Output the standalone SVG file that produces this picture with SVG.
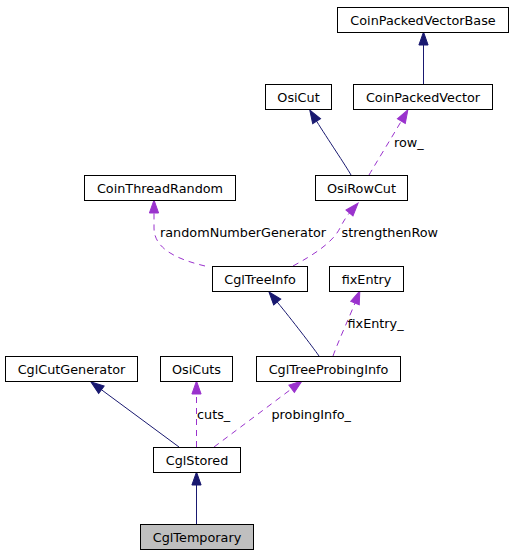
<svg xmlns="http://www.w3.org/2000/svg" width="513" height="554" viewBox="0 0 513 554">
<style>
.n rect{fill:#fff;stroke:#000;stroke-width:1}
.n text{font-family:"DejaVu Sans",sans-serif;font-size:12.8px;text-anchor:middle;fill:#000}
.lbl{font-family:"DejaVu Sans",sans-serif;font-size:12.8px;fill:#000}
.inh{fill:none;stroke:#191970;stroke-width:1;marker-end:url(#ah)}
.use{fill:none;stroke:#9a32cd;stroke-width:1;stroke-dasharray:6,5;marker-end:url(#ap)}
</style>
<defs>
<marker id="ah" markerUnits="userSpaceOnUse" markerWidth="14" markerHeight="10" viewBox="0 0 13 10" refX="0" refY="5" orient="auto" overflow="visible">
<path d="M0,0.4 L13,5 L0,9.6 z" fill="#191970" stroke="#191970"/>
</marker>
<marker id="ap" markerUnits="userSpaceOnUse" markerWidth="14" markerHeight="10" viewBox="0 0 13 10" refX="0" refY="5" orient="auto" overflow="visible">
<path d="M0,0.4 L13,5 L0,9.6 z" fill="#9a32cd" stroke="#9a32cd"/>
</marker>
</defs>
<g id="edges">
<path class="inh" d="M423.5,84 L423.5,45"/>
<path class="inh" d="M351,175 C346,166 327,138 316.6,121.2"/>
<path class="use" d="M369,175 C376,163 392,137 401.3,121.1"/>
<path class="use" d="M205,266 C180,260 154,250 154,228 L154,213"/>
<path class="use" d="M293,266 C315,254 333,242 340,228 C343,222 346,217 349.5,213"/>
<path class="inh" d="M319,356 C312,346 292,320 277.2,302"/>
<path class="use" d="M333,356 C338,342 349,318 355,303"/>
<path class="inh" d="M179,447 L101.4,389.7"/>
<path class="use" d="M196.5,447 L196.5,394"/>
<path class="use" d="M214,447 L291.6,388.8"/>
<path class="inh" d="M196.5,524 L196.5,485"/>
<text class="lbl" x="394" y="147">row_</text>
<text class="lbl" x="160" y="237">randomNumberGenerator</text>
<text class="lbl" x="341.5" y="237">strengthenRow</text>
<text class="lbl" x="347.5" y="328">fixEntry_</text>
<text class="lbl" x="197" y="419">cuts_</text>
<text class="lbl" x="271.5" y="419">probingInfo_</text>
</g>
<g id="CoinPackedVectorBase" class="n"><rect x="337.5" y="7.5" width="171" height="25"/><text x="423" y="24.5">CoinPackedVectorBase</text></g>
<g id="OsiCut" class="n"><rect x="265.5" y="84.5" width="66" height="25"/><text x="298.5" y="101.5">OsiCut</text></g>
<g id="CoinPackedVector" class="n"><rect x="353.5" y="84.5" width="139" height="25"/><text x="423" y="101.5">CoinPackedVector</text></g>
<g id="OsiRowCut" class="n"><rect x="315.5" y="175.5" width="92" height="25"/><text x="361.5" y="192.5">OsiRowCut</text></g>
<g id="CoinThreadRandom" class="n"><rect x="84.5" y="175.5" width="151" height="25"/><text x="160" y="192.5">CoinThreadRandom</text></g>
<g id="CglTreeInfo" class="n"><rect x="212.5" y="266.5" width="95" height="25"/><text x="260" y="283.5">CglTreeInfo</text></g>
<g id="fixEntry" class="n"><rect x="329.5" y="266.5" width="74" height="25"/><text x="366.5" y="283.5">fixEntry</text></g>
<g id="CglCutGenerator" class="n"><rect x="5.5" y="356.5" width="132" height="25"/><text x="71.5" y="373.5">CglCutGenerator</text></g>
<g id="OsiCuts" class="n"><rect x="160.5" y="356.5" width="72" height="25"/><text x="196.5" y="373.5">OsiCuts</text></g>
<g id="CglTreeProbingInfo" class="n"><rect x="256.5" y="356.5" width="144" height="25"/><text x="328.5" y="373.5">CglTreeProbingInfo</text></g>
<g id="CglStored" class="n"><rect x="153.5" y="447.5" width="87" height="25"/><text x="197" y="464.5">CglStored</text></g>
<g id="CglTemporary" class="n"><rect x="140.5" y="524.5" width="113" height="25" style="fill:#bfbfbf"/><text x="197" y="541.5">CglTemporary</text></g>
</svg>
